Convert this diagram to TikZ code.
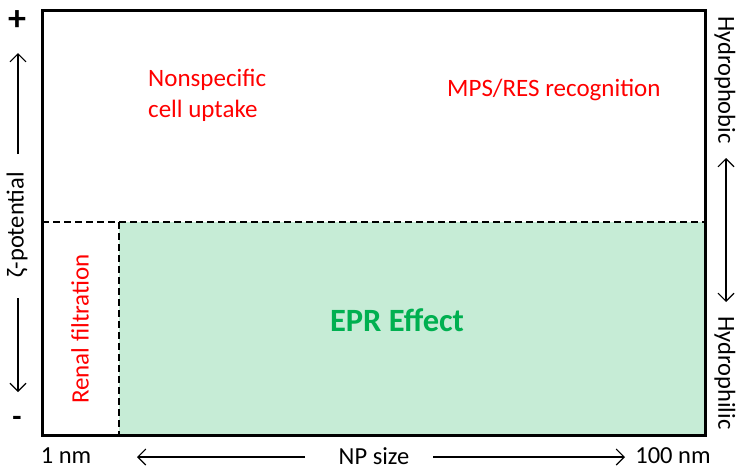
\documentclass[tikz,border=0pt]{standalone}
\usepackage{fontspec}
\setmainfont{Carlito}
\usetikzlibrary{arrows.meta}
\definecolor{eprfill}{RGB}{198,236,214}
\definecolor{eprgreen}{RGB}{0,176,80}
\begin{document}
\begin{tikzpicture}[x=1pt, y=-1pt,
  redlbl/.style={text=red, font=\fontsize{25}{31}\selectfont, inner sep=0pt},
  axislbl/.style={font=\fontsize{24.5}{28}\selectfont, inner sep=0pt},
  signlbl/.style={font=\fontsize{36}{36}\selectfont\bfseries, inner sep=0pt},
  barb/.tip={Straight Barb[length=8pt, width=16pt, line width=1.1pt]},
  axisarrow/.style={-barb, line width=1.1pt},
  divider/.style={line width=1.2pt, dash pattern=on 7pt off 4pt}]
\useasboundingbox (0,0) rectangle (739,469);
% regions
\fill[eprfill] (119,222) rectangle (705,435);
\draw[divider] (42,222) -- (705,222);
\draw[divider] (119,222) -- (119,435);
\draw[line width=3pt] (42,10) rectangle (705,435);
% inside labels
\node[redlbl, anchor=west, align=left] (uptake) at (148,95) {Nonspecific\\cell uptake};
\node[redlbl, anchor=west] (mps) at (447,90) {MPS/RES recognition};
\node[redlbl, rotate=90] (renal) at (80,329) {Renal filtration};
\node[text=eprgreen, font=\fontsize{32.5}{36}\selectfont\bfseries] (epr) at (397,320) {EPR Effect};
% left axis
\node[signlbl] (plus) at (17,21) {+};
\node[font=\fontsize{30}{30}\selectfont\bfseries, inner sep=0pt] (minus) at (17,421) {-};
\node[axislbl, rotate=90] (zeta) at (17,225) {ζ-potential};
\coordinate (zup0) at (18,154);
\coordinate (zup1) at (18,53);
\coordinate (zdn0) at (18,298);
\coordinate (zdn1) at (18,392);
\draw[axisarrow] (zup0) -- (zup1);
\draw[axisarrow] (zdn0) -- (zdn1);
% right axis
\node[axislbl, rotate=-90] (phobic) at (725,80) {Hydrophobic};
\node[axislbl, rotate=-90] (philic) at (725,373) {Hydrophilic};
\coordinate (hyd0) at (726,158);
\coordinate (hyd1) at (726,302);
\draw[line width=1.1pt, barb-barb] (hyd0) -- (hyd1);
% bottom axis
\node[axislbl] (small) at (66,456) {1 nm};
\node[axislbl] (npsize) at (374,456) {NP size};
\node[axislbl] (large) at (673,456) {100 nm};
\coordinate (np0) at (305,457);
\coordinate (np1) at (137,457);
\coordinate (np2) at (433,457);
\coordinate (np3) at (625,457);
\draw[axisarrow] (np0) -- (np1);
\draw[axisarrow] (np2) -- (np3);
\end{tikzpicture}
\end{document}
